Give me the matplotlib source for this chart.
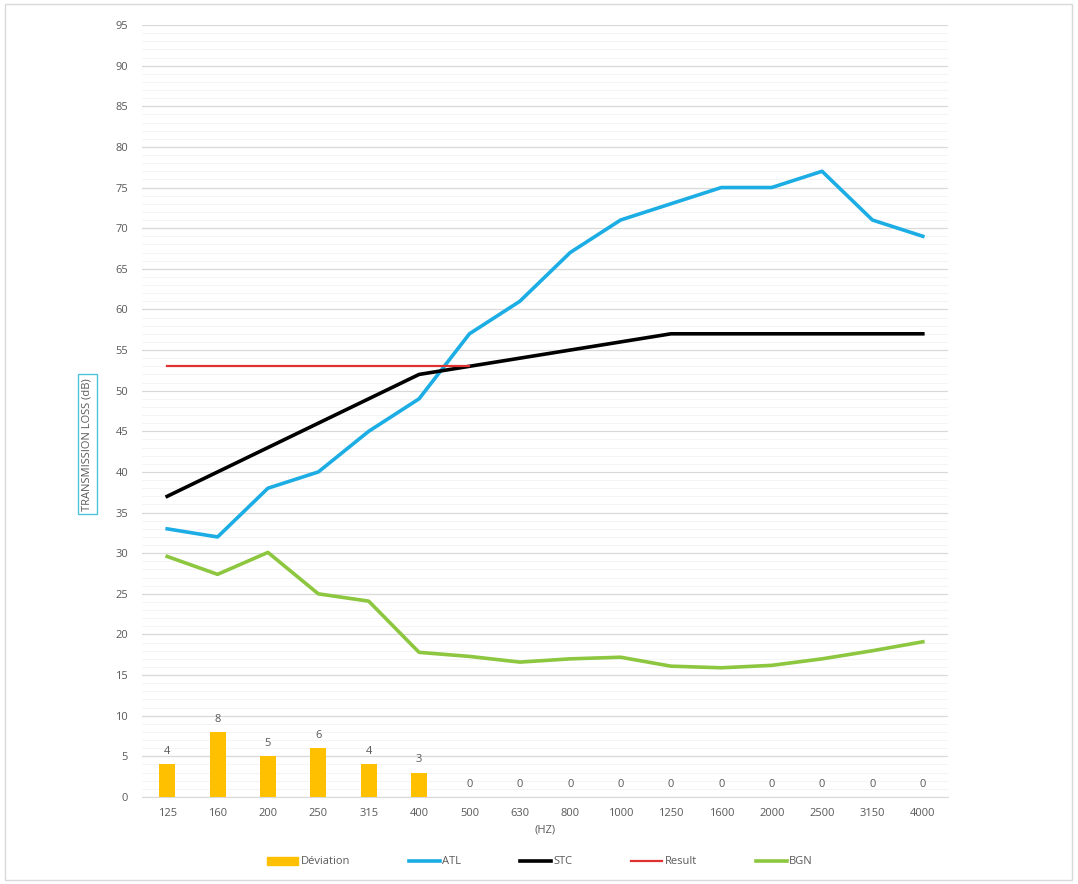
import matplotlib
matplotlib.use("Agg")
import matplotlib.pyplot as plt
from matplotlib.patches import Rectangle, Patch
from matplotlib.lines import Line2D
import numpy as np

freqs = ["125", "160", "200", "250", "315", "400", "500", "630", "800",
         "1000", "1250", "1600", "2000", "2500", "3150", "4000"]
deviation = [4, 8, 5, 6, 4, 3, 0, 0, 0, 0, 0, 0, 0, 0, 0, 0]
atl = [33, 32, 38, 40, 45, 49, 57, 61, 67, 71, 73, 75, 75, 77, 71, 69]
stc = [37, 40, 43, 46, 49, 52, 53, 54, 55, 56, 57, 57, 57, 57, 57, 57]
result = [53, 53, 53, 53, 53, 53, 53]
bgn = [29.6, 27.4, 30.1, 25.0, 24.1, 17.8, 17.3, 16.6, 17.0, 17.2,
       16.1, 15.9, 16.2, 17.0, 18.0, 19.1]

plt.rcParams['font.family'] = ['Open Sans', 'DejaVu Sans']
txt = '#595959'

fig = plt.figure(figsize=(10.78, 8.84), dpi=100)
ax = fig.add_axes([142/1078, 1 - 797/884, (948-142)/1078, (797-25)/884])

x = np.arange(len(freqs))
ax.bar(x, deviation, width=0.32, color='#FFC000', zorder=3, label='Déviation')
for xi, v in zip(x, deviation):
    ax.text(xi, v + 0.9, str(v), ha='center', va='bottom', fontsize=8, color=txt)

ax.plot(x, atl, color='#1CADE4', lw=2.6, zorder=4, label='ATL')
ax.plot(x, stc, color='#000000', lw=2.6, zorder=4, label='STC')
ax.plot(x[:len(result)], result, color='#E03030', lw=1.6, zorder=4, label='Result')
ax.plot(x, bgn, color='#8DC63F', lw=2.6, zorder=4, label='BGN')

ax.set_ylim(0, 95)
ax.set_xlim(-0.5, len(freqs) - 0.5)
ax.set_yticks(np.arange(0, 96, 5))
ax.set_yticks(np.arange(0, 96, 1), minor=True)
ax.set_xticks(x)
ax.set_xticklabels(freqs)
ax.tick_params(axis='both', which='both', length=0, labelsize=8, colors=txt, pad=10)
ax.tick_params(axis='x', pad=8)
ax.grid(axis='y', which='major', color='#D9D9D9', lw=0.9, zorder=0)
ax.grid(axis='y', which='minor', color='#F4F4F4', lw=0.7, zorder=0)
for s in ['top', 'right', 'left']:
    ax.spines[s].set_visible(False)
ax.spines['bottom'].set_color('#D9D9D9')
ax.set_axisbelow(True)

ax.set_xlabel('(HZ)', fontsize=8, color=txt, labelpad=4)
ax.set_ylabel('TRANSMISSION LOSS (dB)', fontsize=8, color=txt,
              bbox=dict(boxstyle='square,pad=0.35', fc='white', ec='#4FC3D9', lw=1))
ax.yaxis.set_label_coords(-0.061, 0.457)

handles = [Patch(color='#FFC000'),
           Line2D([], [], color='#1CADE4', lw=2.6),
           Line2D([], [], color='#000000', lw=2.6),
           Line2D([], [], color='#E03030', lw=1.6),
           Line2D([], [], color='#8DC63F', lw=2.6)]
labels = ['Déviation', 'ATL', 'STC', 'Result', 'BGN']
leg = fig.legend(handles, labels, loc='center', bbox_to_anchor=(540/1078, 1 - 862/884),
                 ncol=5, frameon=False, fontsize=8, columnspacing=5.3, handlelength=2.8,
                 handletextpad=0.2, handleheight=0.7)
for t in leg.get_texts():
    t.set_color(txt)

fig.patches.append(Rectangle((5/1078, 4/884), 1067/1078, 876/884, transform=fig.transFigure,
                             fill=False, ec='#D9D9D9', lw=1))

fig.savefig('out.png', dpi=100)
